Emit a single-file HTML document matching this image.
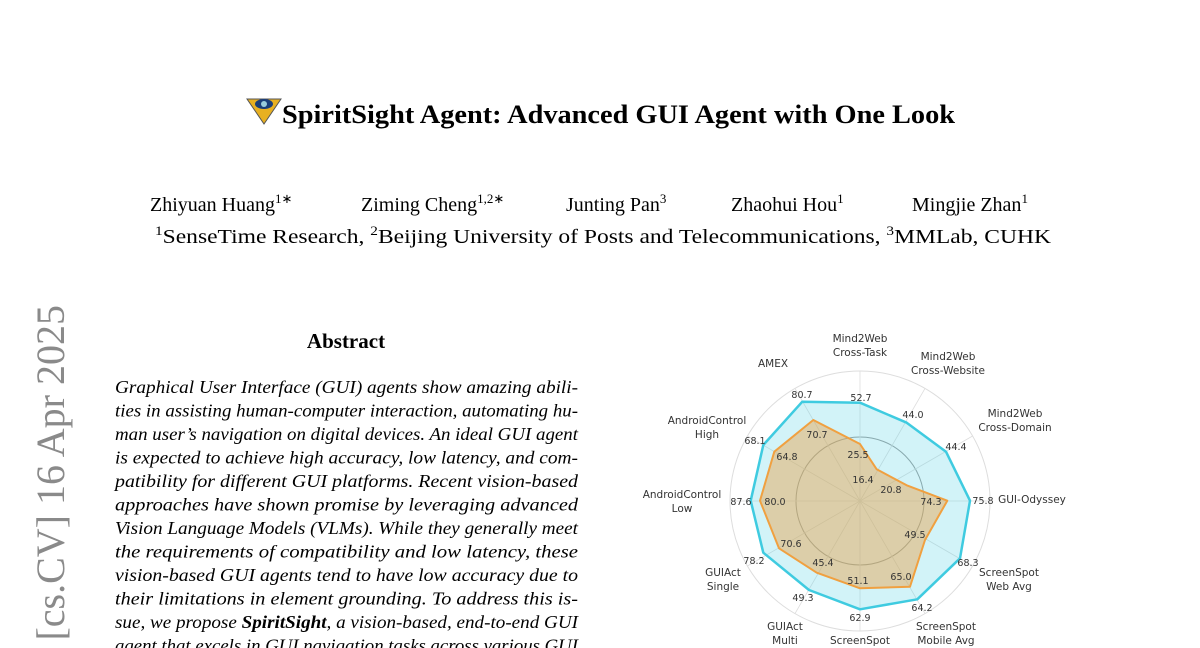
<!DOCTYPE html>
<html><head><meta charset="utf-8"><style>
html,body{margin:0;padding:0;background:#fff;width:1200px;height:648px;overflow:hidden}
svg{display:block}
.s{font-family:"Liberation Serif",serif;fill:#000}
.c{font-family:"DejaVu Sans","Liberation Sans",sans-serif;fill:#333}
</style></head><body>
<svg width="1200" height="648" viewBox="0 0 1200 648" xmlns="http://www.w3.org/2000/svg">
<polygon points="247,99 281,99 264,124" fill="#e8b021" stroke="#555" stroke-width="1"/>
<ellipse cx="264" cy="104" rx="9" ry="5" fill="#1a3e7a"/>
<circle cx="264" cy="104" r="3" fill="#9cd"/>
<text class="s" x="282" y="123" font-size="26" font-weight="bold" textLength="673" lengthAdjust="spacingAndGlyphs">SpiritSight Agent: Advanced GUI Agent with One Look</text>

<g class="s" font-size="20">
<text x="150" y="211">Zhiyuan Huang<tspan font-size="13" dy="-8">1∗</tspan></text>
<text x="361" y="211">Ziming Cheng<tspan font-size="13" dy="-8">1,2∗</tspan></text>
<text x="566" y="211">Junting Pan<tspan font-size="13" dy="-8">3</tspan></text>
<text x="731" y="211">Zhaohui Hou<tspan font-size="13" dy="-8">1</tspan></text>
<text x="912" y="211">Mingjie Zhan<tspan font-size="13" dy="-8">1</tspan></text>
<text x="155" y="243" textLength="896" lengthAdjust="spacingAndGlyphs"><tspan font-size="13" dy="-8">1</tspan><tspan dy="8">SenseTime Research, </tspan><tspan font-size="13" dy="-8">2</tspan><tspan dy="8">Beijing University of Posts and Telecommunications, </tspan><tspan font-size="13" dy="-8">3</tspan><tspan dy="8">MMLab, CUHK</tspan></text>
</g>

<text x="64" y="305" transform="rotate(-90 64 305)" text-anchor="end" font-family="Liberation Serif,serif" font-size="40" fill="#8a8a8a">[cs.CV]  16 Apr 2025</text>

<text class="s" x="346" y="348" font-size="21" font-weight="bold" text-anchor="middle">Abstract</text>
<g class="s" font-size="18" font-style="italic">
<text x="115" y="393" textLength="463" lengthAdjust="spacingAndGlyphs">Graphical User Interface (GUI) agents show amazing abili-</text>
<text x="115" y="416.5" textLength="463" lengthAdjust="spacingAndGlyphs">ties in assisting human-computer interaction, automating hu-</text>
<text x="115" y="440" textLength="463" lengthAdjust="spacingAndGlyphs">man user’s navigation on digital devices. An ideal GUI agent</text>
<text x="115" y="463.5" textLength="463" lengthAdjust="spacingAndGlyphs">is expected to achieve high accuracy, low latency, and com-</text>
<text x="115" y="487" textLength="463" lengthAdjust="spacingAndGlyphs">patibility for different GUI platforms. Recent vision-based</text>
<text x="115" y="510.5" textLength="463" lengthAdjust="spacingAndGlyphs">approaches have shown promise by leveraging advanced</text>
<text x="115" y="534" textLength="463" lengthAdjust="spacingAndGlyphs">Vision Language Models (VLMs). While they generally meet</text>
<text x="115" y="557.5" textLength="463" lengthAdjust="spacingAndGlyphs">the requirements of compatibility and low latency, these</text>
<text x="115" y="581" textLength="463" lengthAdjust="spacingAndGlyphs">vision-based GUI agents tend to have low accuracy due to</text>
<text x="115" y="604.5" textLength="463" lengthAdjust="spacingAndGlyphs">their limitations in element grounding. To address this is-</text>
<text x="115" y="628" textLength="463" lengthAdjust="spacingAndGlyphs">sue, we propose <tspan font-weight="bold">SpiritSight</tspan>, a vision-based, end-to-end GUI</text>
<text x="115" y="651.5" textLength="463" lengthAdjust="spacingAndGlyphs">agent that excels in GUI navigation tasks across various GUI</text>
</g>

<g transform="translate(860,501)">
<circle r="130" fill="none" stroke="#ddd" stroke-width="1"/>
<circle r="64" fill="none" stroke="#999" stroke-width="1"/>
<g stroke="#ddd" stroke-width="0.8">
<line x1="0" y1="0" x2="0" y2="-130"/><line x1="0" y1="0" x2="65" y2="-112.6"/><line x1="0" y1="0" x2="112.6" y2="-65"/><line x1="0" y1="0" x2="130" y2="0"/><line x1="0" y1="0" x2="112.6" y2="65"/><line x1="0" y1="0" x2="65" y2="112.6"/><line x1="0" y1="0" x2="0" y2="130"/><line x1="0" y1="0" x2="-65" y2="112.6"/><line x1="0" y1="0" x2="-112.6" y2="65"/><line x1="0" y1="0" x2="-130" y2="0"/><line x1="0" y1="0" x2="-112.6" y2="-65"/><line x1="0" y1="0" x2="-65" y2="-112.6"/>
</g>
</g>
<polygon points="860,402.7 906.7,422.7 946,451.7 970,500.7 960,558.3 917.3,599.3 860,609.3 809,590 763.3,552.7 750.7,500.7 763.3,445 802.3,401.7" fill="#5fd3e6" fill-opacity="0.28" stroke="#3fcbe0" stroke-width="2.5" stroke-linejoin="round"/>
<polygon points="860,444 876.7,469.3 906.7,485.3 947.3,500.7 925,540 910,586.7 860,588.3 816.7,572.7 779,548.3 760,500.7 774.3,451.7 813.3,420" fill="#e8a14a" fill-opacity="0.45" stroke="#f0a040" stroke-width="2" stroke-linejoin="round"/>
<g class="c" font-size="9.5" text-anchor="middle">
<text x="861" y="401">52.7</text><text x="913" y="418">44.0</text><text x="956" y="450">44.4</text><text x="983" y="504">75.8</text><text x="968" y="566">68.3</text><text x="922" y="611">64.2</text><text x="860" y="621">62.9</text><text x="803" y="601">49.3</text><text x="754" y="564">78.2</text><text x="741" y="505">87.6</text><text x="755" y="444">68.1</text><text x="802" y="398">80.7</text>
<text x="858" y="458">25.5</text><text x="863" y="483">16.4</text><text x="891" y="493">20.8</text><text x="931" y="505">74.3</text><text x="915" y="538">49.5</text><text x="901" y="580">65.0</text><text x="858" y="584">51.1</text><text x="823" y="566">45.4</text><text x="791" y="547">70.6</text><text x="775" y="505">80.0</text><text x="787" y="460">64.8</text><text x="817" y="438">70.7</text>
</g>
<g class="c" font-size="10.5" fill="#222" text-anchor="middle">
<text x="860" y="342">Mind2Web</text><text x="860" y="356">Cross-Task</text>
<text x="948" y="360">Mind2Web</text><text x="948" y="374">Cross-Website</text>
<text x="1015" y="417">Mind2Web</text><text x="1015" y="431">Cross-Domain</text>
<text x="1032" y="503">GUI-Odyssey</text>
<text x="1009" y="576">ScreenSpot</text><text x="1009" y="590">Web Avg</text>
<text x="946" y="630">ScreenSpot</text><text x="946" y="644">Mobile Avg</text>
<text x="860" y="644">ScreenSpot</text>
<text x="785" y="630">GUIAct</text><text x="785" y="644">Multi</text>
<text x="723" y="576">GUIAct</text><text x="723" y="590">Single</text>
<text x="682" y="498">AndroidControl</text><text x="682" y="512">Low</text>
<text x="707" y="424">AndroidControl</text><text x="707" y="438">High</text>
<text x="773" y="367">AMEX</text>
</g>
</svg>
</body></html>
